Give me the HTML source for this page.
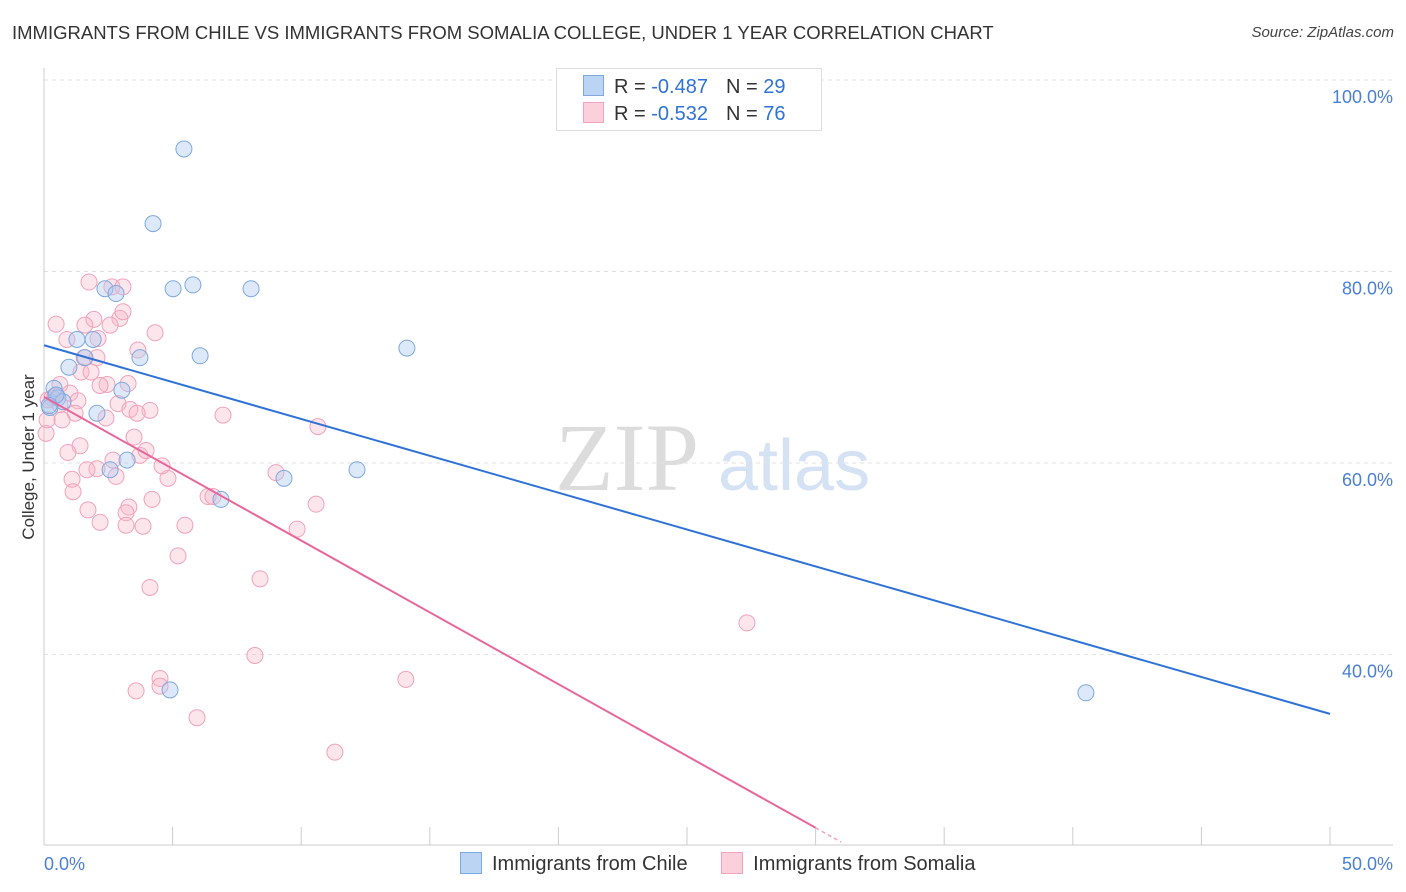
<!DOCTYPE html>
<html><head><meta charset="utf-8"><style>
body{margin:0;background:#fff;font-family:"Liberation Sans",sans-serif;}
#wrap{position:relative;width:1406px;height:892px;overflow:hidden;}
.t{position:absolute;white-space:nowrap;}
</style></head><body>
<div id="wrap">
<div class="t" style="left:12px;top:22px;font-size:18.5px;color:#333;">IMMIGRANTS FROM CHILE VS IMMIGRANTS FROM SOMALIA COLLEGE, UNDER 1 YEAR CORRELATION CHART</div>
<div class="t" style="right:12px;top:24px;font-size:15px;color:#444;font-style:italic;">Source: ZipAtlas.com</div>
<svg id="chart" width="1406" height="892" style="position:absolute;left:0;top:0"></svg>
</div>
<script>
const chileX=[5.44,4.24,5.02,5.79,8.05,2.37,2.80,14.11,6.07,3.73,1.28,1.91,1.59,0.97,3.03,0.39,0.54,0.74,0.23,2.06,3.23,2.57,9.33,12.17,6.88,4.90,40.51,0.47,0.2];
const chileY=[92.8,85.0,78.2,78.6,78.2,78.2,77.7,72.0,71.2,71.0,72.9,72.9,71.0,70.0,67.6,67.8,66.8,66.4,65.8,65.2,60.3,59.3,58.4,59.3,56.2,36.3,36.0,67.1,66.0];
const somaliaX=[1.75,2.64,3.07,0.47,1.94,1.59,2.95,2.57,3.07,4.32,0.89,2.10,3.65,1.56,2.06,1.44,0.62,2.45,1.01,0.31,0.16,1.32,2.88,3.34,4.12,3.62,1.21,2.41,0.70,6.96,10.65,3.50,1.40,0.93,3.73,2.68,3.97,2.06,4.82,9.02,1.09,1.13,6.38,4.20,1.71,3.30,3.19,10.58,2.18,3.19,3.85,5.48,9.84,5.21,8.40,4.12,27.33,8.20,4.51,4.51,14.07,3.58,5.95,11.31,0.08,0.12,2.80,1.67,0.62,0.43,1.83,3.27,4.59,6.57,2.18];
const somaliaY=[78.9,78.4,78.4,74.5,75.0,74.4,75.1,74.4,75.8,73.6,72.9,73.0,71.8,71.0,71.0,69.5,68.2,68.2,67.3,66.8,66.6,66.5,66.2,65.6,65.5,65.2,65.2,64.7,64.5,65.0,63.8,62.7,61.8,61.1,60.8,60.3,61.3,59.4,58.4,59.0,58.3,57.0,56.5,56.2,55.1,55.4,54.8,55.7,53.8,53.5,53.4,53.5,53.1,50.3,47.9,47.0,43.3,39.9,37.5,36.7,37.4,36.2,33.4,29.8,63.1,64.5,58.6,59.3,66.1,67.0,69.5,68.3,59.7,56.5,68.1];
const chileLine=[72.3,33.8];
const somaliaLine=[66.9,21.9];
const somaliaLineEndX=30.0;
const yTicks=[40,60,80,100];
const xTickVals=[0,5,10,15,20,25,30,35,40,45,50];

const svg=document.getElementById('chart');
const NS='http://www.w3.org/2000/svg';
const X=v=>44+v*25.72, Y=v=>1037.5-v*9.575;
function mk(tag,attrs,parent){const e=document.createElementNS(NS,tag);for(const k in attrs)e.setAttribute(k,attrs[k]);(parent||svg).appendChild(e);return e;}
let w=mk('text',{x:555,y:490,'font-size':96,'font-family':'Liberation Serif, serif',fill:'#dcdcdc'});w.textContent='ZIP';


w=mk('text',{x:718,y:490,'font-size':72,'font-family':'Liberation Sans, sans-serif',fill:'#d4e2f4'});w.textContent='atlas';


yTicks.forEach(v=>{
 const l=mk('line',{x1:44,x2:1393,y1:Y(v),y2:Y(v),stroke:'#e2e2e2','stroke-dasharray':'4,4'});
 
 
 const t=mk('text',{x:1393,y:Y(v)+23,'text-anchor':'end','font-size':18,fill:'#4a7fd4'});t.textContent=v.toFixed(1)+'%';
 
 
});
let a=mk('line',{x1:44,x2:44,y1:68,y2:845,stroke:'#ccc'});


a=mk('line',{x1:44,x2:1393,y1:845,y2:845,stroke:'#ccc'});


xTickVals.forEach(v=>{const l=mk('line',{x1:X(v),x2:X(v),y1:827,y2:845,stroke:'#ccc'});
 
 });
let t=mk('text',{x:44,y:870,'font-size':18,fill:'#4a7fd4'});t.textContent='0.0%';


t=mk('text',{x:1393,y:870,'text-anchor':'end','font-size':18,fill:'#4a7fd4'});t.textContent='50.0%';


t=mk('text',{x:0,y:0,'font-size':17,fill:'#333',transform:'translate(34,457) rotate(-90)','text-anchor':'middle'});t.textContent='College, Under 1 year';


somaliaX.forEach((x,i)=>{const c=mk('circle',{cx:X(x),cy:Y(somaliaY[i]),r:8,fill:'rgba(248,180,200,0.35)',stroke:'#f0a3bb','stroke-width':1});
 
 });
chileX.forEach((x,i)=>{const c=mk('circle',{cx:X(x),cy:Y(chileY[i]),r:8,fill:'rgba(170,200,240,0.4)',stroke:'#7fa8de','stroke-width':1});
 
 });
let ln=mk('line',{x1:X(0),y1:Y(chileLine[0]),x2:X(50),y2:Y(chileLine[1]),stroke:'#2f72d6','stroke-width':2});


const sl=(somaliaLine[1]-somaliaLine[0])/somaliaLineEndX;
ln=mk('line',{x1:X(0),y1:Y(somaliaLine[0]),x2:X(somaliaLineEndX),y2:Y(somaliaLine[1]),stroke:'#e8679a','stroke-width':2});


ln=mk('line',{x1:X(somaliaLineEndX),y1:Y(somaliaLine[1]),x2:X(31),y2:Y(somaliaLine[0]+sl*31),stroke:'#f0a3bb','stroke-width':1.5,'stroke-dasharray':'4,3'});


</script>
<div style="position:absolute;left:556px;top:68px;width:264px;height:61px;border:1px solid #ddd;background:#fff;font-size:20px;">
 <div style="position:absolute;left:26px;top:6px;"><span style="display:inline-block;width:19px;height:19px;background:#bcd4f4;border:1px solid #7fa8de;vertical-align:-3px;"></span><span style="color:#333;margin-left:10px">R = </span><span style="color:#2f72d6">-0.487</span><span style="color:#333;margin-left:18px">N = </span><span style="color:#2f72d6">29</span></div>
 <div style="position:absolute;left:26px;top:33px;"><span style="display:inline-block;width:19px;height:19px;background:#fbd0dc;border:1px solid #f0a3bb;vertical-align:-3px;"></span><span style="color:#333;margin-left:10px">R = </span><span style="color:#2f72d6">-0.532</span><span style="color:#333;margin-left:18px">N = </span><span style="color:#2f72d6">76</span></div>
</div>
<div style="position:absolute;left:460px;top:852px;font-size:20px;color:#333;white-space:nowrap;">
 <span><span style="display:inline-block;width:20px;height:20px;background:#bcd4f4;border:1px solid #7fa8de;vertical-align:-4px;"></span><span style="margin-left:10px">Immigrants from Chile</span></span>
 <span style="margin-left:28px"><span style="display:inline-block;width:20px;height:20px;background:#fbd0dc;border:1px solid #f0a3bb;vertical-align:-4px;"></span><span style="margin-left:10px">Immigrants from Somalia</span></span>
</div>
</body></html>
